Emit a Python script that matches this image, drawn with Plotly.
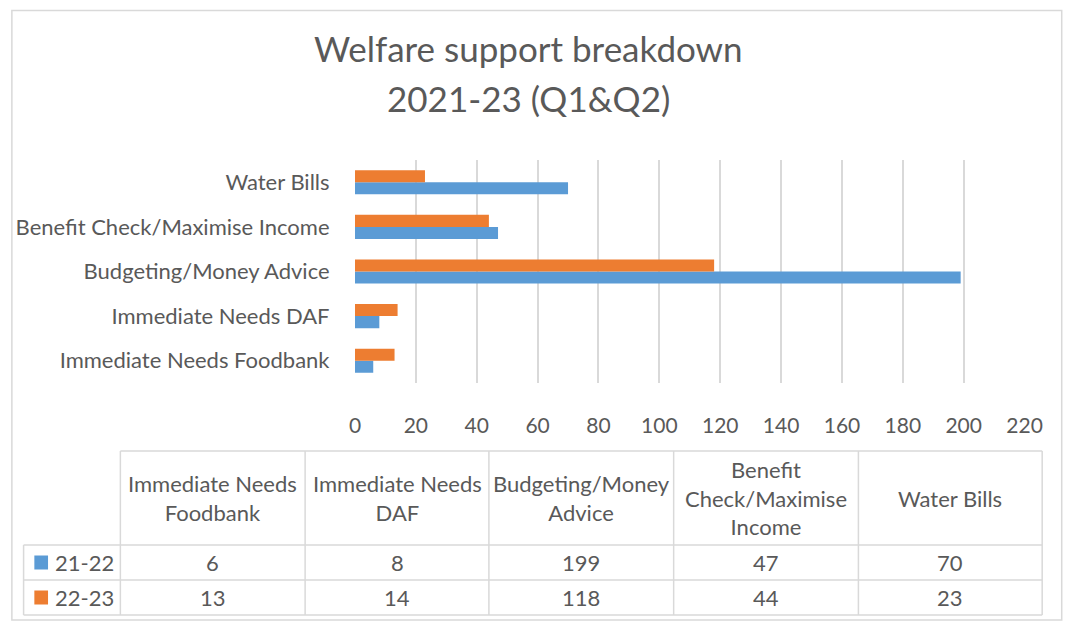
import plotly.graph_objects as go

# ---- data ----
categories = ["Immediate Needs Foodbank", "Immediate Needs DAF", "Budgeting/Money Advice",
              "Benefit Check/Maximise Income", "Water Bills"]
table_headers = ["Immediate Needs<br>Foodbank", "Immediate Needs<br>DAF", "Budgeting/Money<br>Advice",
                 "Benefit<br>Check/Maximise<br>Income", "Water Bills"]
series_names = ["21-22", "22-23"]
values_2122 = [6, 8, 199, 47, 70]
values_2223 = [13, 14, 118, 44, 23]
x_ticks = [0, 20, 40, 60, 80, 100, 120, 140, 160, 180, 200, 220]

colors = ["#5B9BD5", "#ED7D31"]
TXT = "#595959"
GRID = "#D9D9D9"
FONT = "Lato, Carlito, Liberation Sans, sans-serif"
W, H = 1068, 622
FS = 22


def px(x):
    return x / W


def py(y):
    return 1 - y / H


fig = go.Figure()
for name, vals, c in zip(series_names, [values_2122, values_2223], colors):
    fig.add_trace(go.Bar(y=categories, x=vals, name=name, orientation="h",
                         marker=dict(color=c, line=dict(width=0)), showlegend=False))

fig.update_layout(
    width=W, height=H, autosize=False, margin=dict(l=0, r=0, t=0, b=0),
    paper_bgcolor="white", plot_bgcolor="white",
    barmode="group", bargap=0.46, bargroupgap=0,
    font=dict(family=FONT, color=TXT, size=FS),
    xaxis=dict(domain=[px(357), px(1042)], range=[0, 220], tickvals=x_ticks,
               showgrid=True, gridcolor=GRID, gridwidth=2, zeroline=False,
               showline=False, ticks="outside", ticklen=24, tickcolor="rgba(0,0,0,0)",
               tickfont=dict(size=21, color=TXT), fixedrange=True),
    yaxis=dict(domain=[py(383), py(160)], categoryorder="array", categoryarray=categories,
               showgrid=False, zeroline=False, showline=False,
               ticks="outside", ticklen=20, tickcolor="rgba(0,0,0,0)",
               tickfont=dict(size=FS, color=TXT), fixedrange=True),
)

shapes = []
# outer chart border
shapes.append(dict(type="rect", xref="paper", yref="paper", x0=px(6), x1=px(1080),
                   y0=py(620), y1=py(10.5), line=dict(color=GRID, width=1.5)))

# table geometry
col_edges = [117, 306, 494, 683, 872, 1060]
row_label_left = 18
y_top, y_head, y_r1, y_bot = 451, 545, 580, 615

line_style = dict(color=GRID, width=1.5)
shapes.append(dict(type="line", xref="paper", yref="paper", x0=px(col_edges[0]), x1=px(col_edges[-1]),
                   y0=py(y_top), y1=py(y_top), line=line_style))
for yy in [y_head, y_r1, y_bot]:
    shapes.append(dict(type="line", xref="paper", yref="paper", x0=px(row_label_left), x1=px(col_edges[-1]),
                       y0=py(yy), y1=py(yy), line=line_style))
shapes.append(dict(type="line", xref="paper", yref="paper", x0=px(row_label_left), x1=px(row_label_left),
                   y0=py(y_head), y1=py(y_bot), line=line_style))
for xx in col_edges:
    shapes.append(dict(type="line", xref="paper", yref="paper", x0=px(xx), x1=px(xx),
                       y0=py(y_top), y1=py(y_bot), line=line_style))

annotations = []
# title
annotations.append(dict(text="Welfare support breakdown", x=px(535), y=py(48), xref="paper", yref="paper",
                        showarrow=False, xanchor="center", yanchor="middle",
                        font=dict(size=35, color=TXT, family=FONT)))
annotations.append(dict(text="2021-23 (Q1&Q2)", x=px(535), y=py(98), xref="paper", yref="paper",
                        showarrow=False, xanchor="center", yanchor="middle",
                        font=dict(size=35, color=TXT, family=FONT)))

# header cells
for i, h in enumerate(table_headers):
    cx = (col_edges[i] + col_edges[i + 1]) / 2
    annotations.append(dict(text=h, x=px(cx), y=py((y_top + y_head) / 2), xref="paper", yref="paper",
                            showarrow=False, xanchor="center", yanchor="middle",
                            font=dict(size=FS, color=TXT, family=FONT)))

# data rows
rows = [(y_head, y_r1), (y_r1, y_bot)]
for (r0, r1), name, vals, c in zip(rows, series_names, [values_2122, values_2223], colors):
    cy = (r0 + r1) / 2
    shapes.append(dict(type="rect", xref="paper", yref="paper", x0=px(29), x1=px(43),
                       y0=py(cy + 7), y1=py(cy - 7), fillcolor=c, line=dict(width=0)))
    annotations.append(dict(text=name, x=px(48), y=py(cy), xref="paper", yref="paper",
                            showarrow=False, xanchor="left", yanchor="middle",
                            font=dict(size=FS, color=TXT, family=FONT)))
    for i, v in enumerate(vals):
        cx = (col_edges[i] + col_edges[i + 1]) / 2
        annotations.append(dict(text=str(v), x=px(cx), y=py(cy), xref="paper", yref="paper",
                                showarrow=False, xanchor="center", yanchor="middle",
                                font=dict(size=FS, color=TXT, family=FONT)))

fig.update_layout(shapes=shapes, annotations=annotations)
fig.write_html(
    "out.html",
    config={"displayModeBar": False, "responsive": False},
    post_script=("document.documentElement.style.margin='0';document.body.style.margin='0';"
                 "document.documentElement.style.overflow='hidden';document.body.style.overflow='hidden';"),
)
